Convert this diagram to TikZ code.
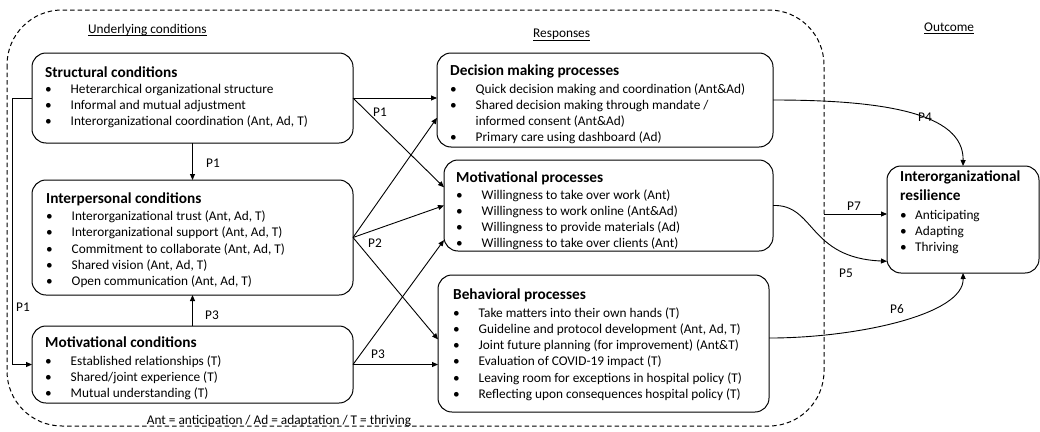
\documentclass[tikz,border=0pt]{standalone}
\usepackage{fontspec}
\setmainfont{Carlito}
\usetikzlibrary{arrows.meta,calc}
\newcommand\itm[2][25.5pt]{\makebox[#1][l]{\textbullet}#2}
\newcommand\rows[1]{\begin{tabular}[t]{@{}l@{}}#1\end{tabular}}
\begin{document}
\begin{tikzpicture}[x=1pt,y=-1pt,
  box/.style={draw, line width=1pt, rounded corners=14pt, anchor=north west, inner sep=0pt, outer sep=0pt},
  ttl/.style={anchor=base west, inner sep=0pt, font=\fontsize{15.3}{19}\selectfont\bfseries},
  lst/.style={anchor=base west, inner sep=0pt, font=\fontsize{13.3}{16.2}\selectfont},
  lbl/.style={inner sep=0pt, font=\fontsize{13.3}{16}\selectfont},
  hd/.style={anchor=base west, inner sep=0pt, font=\fontsize{13.3}{16}\selectfont},
  con/.style={line width=0.9pt},
  arr/.style={con, -{Triangle[length=6pt,width=5pt]}},
  ul/.style={line width=0.8pt},
  border/.style={dash pattern=on 4.5pt off 3pt, line width=1pt, rounded corners=55pt}
]
\useasboundingbox (0,0) rectangle (1040,431);
\draw[border] (7,10) rectangle (824,426);

% headings
\node[hd] (h1) at (88,33) {Underlying conditions};
\draw[ul] ($(h1.base west)+(0,2.5)$) -- ($(h1.base east)+(0,2.5)$);
\node[hd] (h2) at (533,37.5) {Responses};
\draw[ul] ($(h2.base west)+(0,2.5)$) -- ($(h2.base east)+(0,2.5)$);
\node[hd] (h3) at (924,31) {Outcome};
\draw[ul] ($(h3.base west)+(0,2.5)$) -- ($(h3.base east)+(0,2.5)$);

% boxes
\node[box, minimum width=321pt, minimum height=90pt] (sc) at (32,53) {};
\node[box, minimum width=321pt, minimum height=115pt] (ip) at (32,180) {};
\node[box, minimum width=321pt, minimum height=77pt] (mc) at (32,326) {};
\node[box, minimum width=336pt, minimum height=94pt] (dec) at (437,53) {};
\node[box, minimum width=329pt, minimum height=91pt] (mp) at (444,160) {};
\node[box, minimum width=331pt, minimum height=137pt] (beh) at (438,275) {};
\node[box, minimum width=152pt, minimum height=107pt] (res) at (887,166) {};

% texts
\node[ttl] (sct) at (45,77) {Structural conditions};
\node[lst] (scl) at (45,93) {\rows{\itm{Heterarchical organizational structure}\\
\itm{Informal and mutual adjustment}\\
\itm{Interorganizational coordination (Ant, Ad, T)}}};

\node[ttl] (ipt) at (46,203.5) {Interpersonal conditions};
\node[lst] (ipl) at (46,220.7) {\rows{\itm{Interorganizational trust (Ant, Ad, T)}\\
\itm{Interorganizational support (Ant, Ad, T)}\\
\itm{Commitment to collaborate (Ant, Ad, T)}\\
\itm{Shared vision (Ant, Ad, T)}\\
\itm{Open communication (Ant, Ad, T)}}};

\node[ttl] (mct) at (45,347.7) {Motivational conditions};
\node[lst] (mcl) at (45,365.5) {\rows{\itm{Established relationships (T)}\\
\itm{Shared/joint experience (T)}\\
\itm{Mutual understanding (T)}}};

\node[ttl] (dect) at (450,75.3) {Decision making processes};
\node[lst] (decl) at (450,93.3) {\rows{\itm{Quick decision making and coordination (Ant\&Ad)}\\
\itm{Shared decision making through mandate /}\\
\hspace*{25.5pt}informed consent (Ant\&Ad)\\
\itm{Primary care using dashboard (Ad)}}};

\node[ttl] (mpt) at (456,182.3) {Motivational processes};
\node[lst] (mpl) at (456,199) {\rows{\itm{Willingness to take over work (Ant)}\\
\itm{Willingness to work online (Ant\&Ad)}\\
\itm{Willingness to provide materials (Ad)}\\
\itm{Willingness to take over clients (Ant)}}};

\node[ttl] (beht) at (453,299.3) {Behavioral processes};
\node[lst] (behl) at (453,317.3) {\rows{\itm{Take matters into their own hands (T)}\\
\itm{Guideline and protocol development (Ant, Ad, T)}\\
\itm{Joint future planning (for improvement) (Ant\&T)}\\
\itm{Evaluation of COVID-19 impact (T)}\\
\itm{Leaving room for exceptions in hospital policy (T)}\\
\itm{Reflecting upon consequences hospital policy (T)}}};

\node[ttl] (rest) at (900,181) {\rows{Interorganizational\\resilience}};
\node[lst] (resl) at (900,219) {\rows{\itm[15pt]{Anticipating}\\
\itm[15pt]{Adapting}\\
\itm[15pt]{Thriving}}};

% connectors
\draw[arr] (sc.south) -- (ip.north);
\node[lbl] (l1) at (213,163) {P1};
\draw[arr] (mc.north) -- (ip.south);
\node[lbl] (l2) at (212,315) {P3};
\draw[arr] (sc.west) -- ++(-20,0) |- (mc.west);
\node[lbl] (l3) at (23,307) {P1};
\draw[arr] (sc.east) -- (sc.east -| dec.west);
\draw[arr] (sc.east) -- ($(mp.north west)!0.3!(mp.south west)$);
\node[lbl] (l4) at (380,112) {P1};
\draw[arr] (ip.east) -- ($(dec.north west)!0.69!(dec.south west)$);
\draw[arr] (ip.east) -- (mp.west);
\draw[arr] (ip.east) -- ($(beh.north west)!0.47!(beh.south west)$);
\node[lbl] (l5) at (375,243) {P2};
\draw[arr] (mc.east) -- (mc.east -| beh.west);
\draw[arr] (mc.east) -- ($(mp.north west)!0.88!(mp.south west)$);
\node[lbl] (l6) at (378,354) {P3};

\draw[arr] (dec.east) .. controls (880,100) and (964,112) .. (res.north);
\node[lbl] (l7) at (925,117) {P4};
\draw[arr] (mp.east) .. controls (815,204) and (808,258) .. ($(res.north west)!0.89!(res.south west)$);
\node[lbl] (l8) at (846,273) {P5};
\coordinate (p7s) at (824,214);
\draw[arr] (p7s) -- (p7s -| res.west);
\node[lbl] (l9) at (854,206) {P7};
\draw[arr] ($(beh.north east)!0.46!(beh.south east)$) .. controls (855,338) and (964,315) .. (res.south);
\node[lbl] (l10) at (897,309) {P6};

\node[hd] (cap) at (146.7,424) {Ant = anticipation / Ad = adaptation / T = thriving};
\end{tikzpicture}
\end{document}
